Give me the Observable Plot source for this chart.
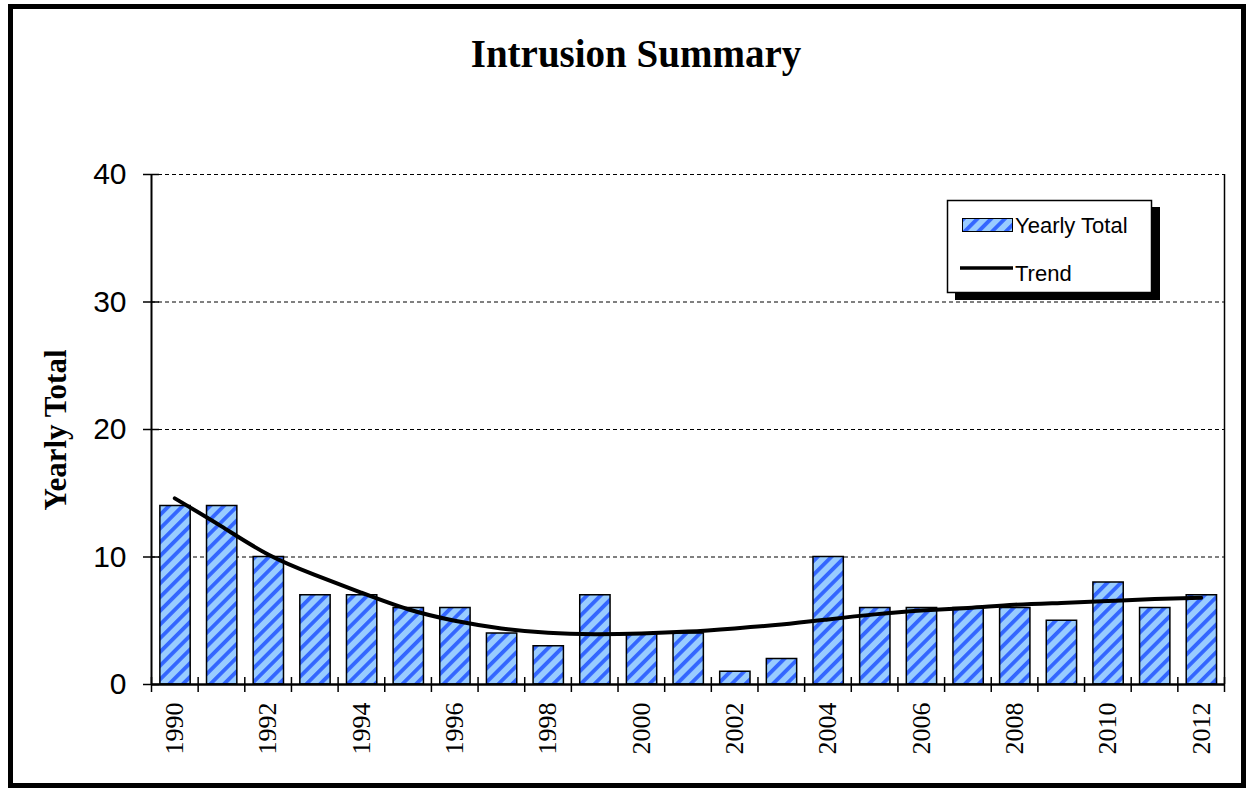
<!DOCTYPE html>
<html>
<head>
<meta charset="utf-8">
<script src="https://cdn.jsdelivr.net/npm/d3@7"></script>
<script src="https://cdn.jsdelivr.net/npm/@observablehq/plot@0.6"></script>
<style>
  html, body { margin: 0; padding: 0; background: #fff; }
  #wrap { position: relative; width: 1247px; height: 788px; overflow: hidden; }
  #wrap > svg { position: absolute; left: 0; top: 0; }
  #overlay { pointer-events: none; }
</style>
</head>
<body>
<div id="wrap"></div>
<script>
// ---- data ----
const years  = [1990,1991,1992,1993,1994,1995,1996,1997,1998,1999,2000,2001,2002,2003,2004,2005,2006,2007,2008,2009,2010,2011,2012];
const totals = [14,14,10,7,7,6,6,4,3,7,4,4,1,2,10,6,6,6,6,5,8,6,7];
const trend  = [14.6,12.4,10.2,8.6,7.2,5.9,5.0,4.4,4.05,3.95,4.0,4.15,4.4,4.7,5.1,5.5,5.8,6.0,6.25,6.4,6.55,6.7,6.8];
const yTicks = [0,10,20,30,40];
const gridValues = [10,20,30,40];
const xLabels = [1990,1992,1994,1996,1998,2000,2002,2004,2006,2008,2010,2012];
const titleText = "Intrusion Summary";
const yLabelText = "Yearly Total";
const legendLabels = ["Yearly Total", "Trend"];

const data = years.map((year, i) => ({year, total: totals[i], trend: trend[i]}));
const boundaries = years.map(y => y - 0.5).concat([years[years.length - 1] + 0.5]);

const wrap = document.getElementById("wrap");

const chart = Plot.plot({
  width: 1247,
  height: 788,
  marginLeft: 151,
  marginRight: 23,
  marginTop: 174,
  marginBottom: 104,
  x: {domain: [boundaries[0], boundaries[boundaries.length - 1]], label: null},
  y: {domain: [0, 40], label: null},
  style: {background: "transparent", fontFamily: "'Liberation Sans', Arial, sans-serif", color: "black", overflow: "visible"},
  marks: [
    Plot.ruleY(gridValues, {stroke: "black", strokeWidth: 1, strokeDasharray: "4,3"}),
    Plot.rectY(data, {
      x1: d => d.year - 0.31,
      x2: d => d.year + 0.34,
      y: "total",
      fill: "url(#hatch)",
      stroke: "black",
      strokeWidth: 1.5
    }),
    Plot.line(data, {x: "year", y: "trend", curve: "natural", stroke: "black", strokeWidth: 4}),
    Plot.ruleX([boundaries[0]], {y1: 0, y2: 40, stroke: "black", strokeWidth: 2}),
    Plot.ruleX([boundaries[boundaries.length - 1]], {y1: 0, y2: 40, stroke: "black", strokeWidth: 1.5}),
    Plot.ruleY([0], {stroke: "black", strokeWidth: 2.5}),
    Plot.axisY(yTicks, {anchor: "left", tickSize: 8, tickPadding: 17, fontSize: 30, strokeWidth: 1.5, tickFormat: d => String(d), label: null}),
    Plot.axisY(yTicks, {anchor: "left", tickSize: 8, dx: 8, strokeWidth: 1.5, tickFormat: () => "", label: null}),
    Plot.axisX(boundaries, {anchor: "bottom", tickSize: 8, strokeWidth: 1.5, tickFormat: () => "", label: null}),
    Plot.axisX(boundaries, {anchor: "bottom", tickSize: 7, dy: -7, strokeWidth: 1.5, tickFormat: () => "", label: null}),
    Plot.axisX(xLabels, {anchor: "bottom", tickSize: 0, tickPadding: 18, tickRotate: -90, fontSize: 26,
      fontFamily: "'Liberation Serif', 'Times New Roman', serif", tickFormat: d => String(d), label: null})
  ]
});
wrap.appendChild(chart);

// ---- overlay: frame, title, y label, legend, hatch pattern ----
const ns = "http://www.w3.org/2000/svg";
const ov = d3.select(wrap).append("svg")
  .attr("id", "overlay")
  .attr("xmlns", ns)
  .attr("width", 1247).attr("height", 788);

const defs = ov.append("defs");
const pat = defs.append("pattern")
  .attr("id", "hatch")
  .attr("patternUnits", "userSpaceOnUse")
  .attr("width", 9.7).attr("height", 9.7)
  .attr("patternTransform", "rotate(45)");
pat.append("rect").attr("width", 9.7).attr("height", 9.7).attr("fill", "#99ccff");
pat.append("rect").attr("x", 0).attr("width", 3.8).attr("height", 9.7).attr("fill", "#3366ff");

// outer frame
ov.append("rect")
  .attr("x", 10.5).attr("y", 6.5).attr("width", 1233).attr("height", 779)
  .attr("fill", "none").attr("stroke", "black").attr("stroke-width", 5);

// title
ov.append("text")
  .attr("x", 636).attr("y", 67)
  .attr("text-anchor", "middle")
  .attr("font-family", "'Liberation Serif', 'Times New Roman', serif")
  .attr("font-weight", "bold")
  .attr("font-size", 39)
  .text(titleText);

// y label
ov.append("text")
  .attr("transform", "translate(66,430) rotate(-90)")
  .attr("text-anchor", "middle")
  .attr("font-family", "'Liberation Serif', 'Times New Roman', serif")
  .attr("font-weight", "bold")
  .attr("font-size", 31)
  .text(yLabelText);

// legend
const lg = ov.append("g");
lg.append("rect").attr("x", 955).attr("y", 207).attr("width", 205).attr("height", 93).attr("fill", "black");
lg.append("rect").attr("x", 947.5).attr("y", 200.5).attr("width", 204).attr("height", 92)
  .attr("fill", "white").attr("stroke", "black").attr("stroke-width", 1.5);
lg.append("rect").attr("x", 962.5).attr("y", 218.5).attr("width", 50).attr("height", 13)
  .attr("fill", "url(#hatch)").attr("stroke", "black").attr("stroke-width", 1);
lg.append("text").attr("x", 1015).attr("y", 233)
  .attr("font-family", "'Liberation Sans', Arial, sans-serif").attr("font-size", 22)
  .text(legendLabels[0]);
lg.append("line").attr("x1", 960).attr("x2", 1013).attr("y1", 268).attr("y2", 268)
  .attr("stroke", "black").attr("stroke-width", 3.5);
lg.append("text").attr("x", 1015).attr("y", 281)
  .attr("font-family", "'Liberation Sans', Arial, sans-serif").attr("font-size", 22)
  .text(legendLabels[1]);
</script>
</body>
</html>
